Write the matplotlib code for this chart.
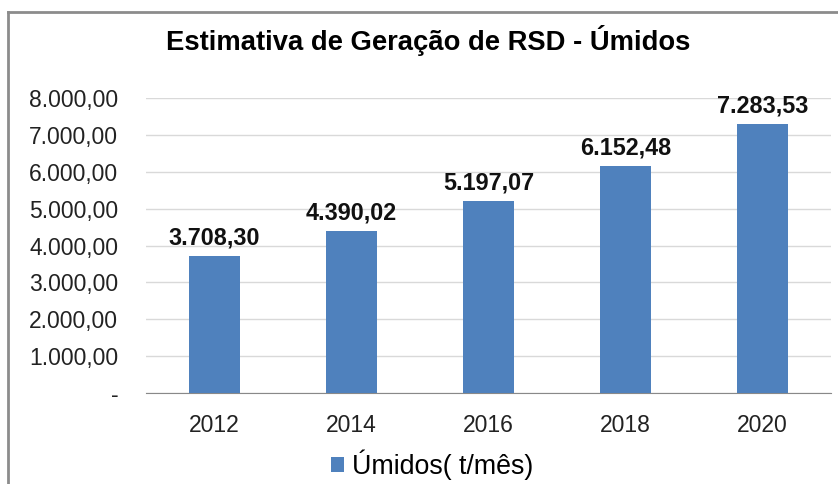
import matplotlib
matplotlib.use("Agg")
import matplotlib.pyplot as plt
from matplotlib.lines import Line2D
from matplotlib.ticker import FuncFormatter

categories = ["2012", "2014", "2016", "2018", "2020"]
values = [3708.30, 4390.02, 5197.07, 6152.48, 7283.53]
yticks = [0, 1000, 2000, 3000, 4000, 5000, 6000, 7000, 8000]
title = "Estimativa de Geração de RSD - Úmidos"
series_name = "Úmidos( t/mês)"

plt.rcParams['font.family'] = ['Liberation Sans', 'DejaVu Sans']

def br(v):
    s = f"{v:,.2f}"
    return s.replace(",", "X").replace(".", ",").replace("X", ".")

fig = plt.figure(figsize=(8.38, 4.84), dpi=100)
ax = fig.add_axes([146/838, 1-393/484, (831-146)/838, (393-98)/484])

color = "#4F81BD"
x = range(len(categories))
bars = ax.bar(x, values, width=0.365, color=color, label=series_name, zorder=3)
ax.set_xlim(-0.5, len(categories)-0.5)
ax.set_ylim(0, 8000)
ax.set_yticks(yticks)
ax.yaxis.set_major_formatter(FuncFormatter(lambda v, p: "-" if v == 0 else br(v)))
ax.set_xticks(list(x))
ax.set_xticklabels(categories)
ax.grid(axis='y', color='#D9D9D9', linewidth=1, zorder=0)
for s in ['top', 'right', 'left']:
    ax.spines[s].set_visible(False)
ax.spines['bottom'].set_color('#898989')
ax.tick_params(axis='both', length=0, labelsize=16.5, colors='#222222')
ax.tick_params(axis='y', pad=20)
ax.tick_params(axis='x', pad=15)

for b, v in zip(bars, values):
    ax.annotate(br(v), (b.get_x()+b.get_width()/2, v), xytext=(0, 5),
                textcoords='offset points', ha='center', va='bottom',
                fontsize=16.8, fontweight='bold', color='#111111')

fig.text(428/838, 1-40/484, title, ha='center', va='center', fontsize=19.7, fontweight='bold')

leg = fig.legend(handles=[bars], labels=[series_name], loc='center', bbox_to_anchor=(432/838, 1-465/484),
                 frameon=False, fontsize=19.3, handlelength=0.5, handleheight=0.5, handletextpad=0.3)

fig.add_artist(Line2D([8/838, 8/838], [0, 1-12/484], color='#8C8C8C', linewidth=2, transform=fig.transFigure))
fig.add_artist(Line2D([8/838, 1], [1-12/484, 1-12/484], color='#8C8C8C', linewidth=2, transform=fig.transFigure))

fig.savefig("out.png", dpi=100)
